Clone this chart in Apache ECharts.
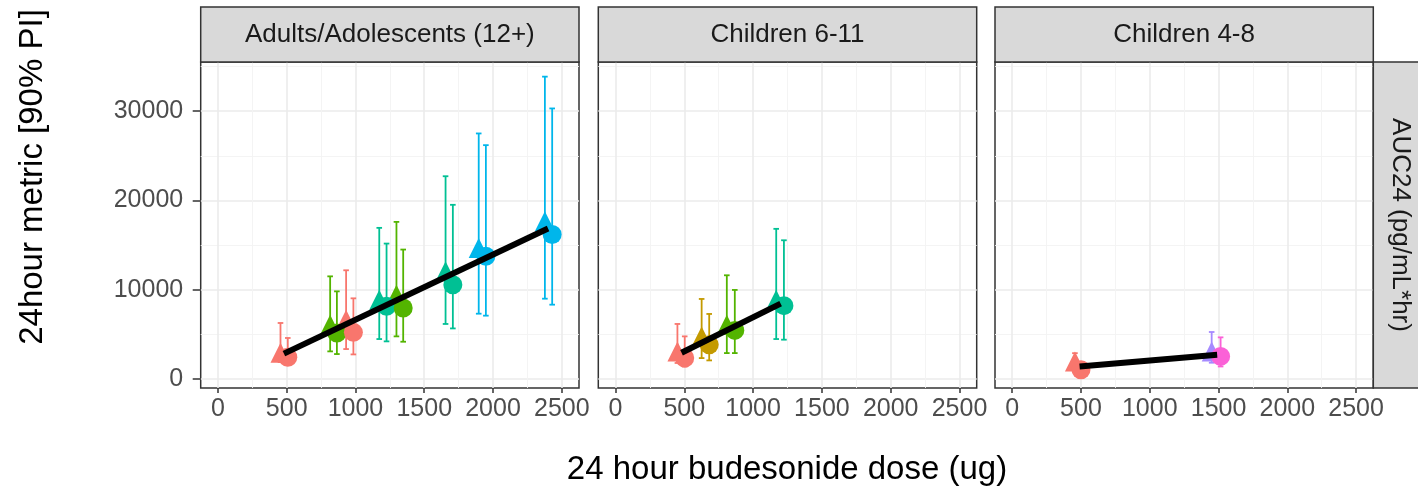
<!DOCTYPE html>
<html><head><meta charset="utf-8">
<script src="https://cdn.jsdelivr.net/npm/echarts@6/dist/echarts.min.js"></script>
<style>html,body{margin:0;padding:0;background:#fff}#c{width:1418px;height:492px}</style>
</head><body><div id="c"></div><script>
// ---------- data ----------
const panelTitles = ['Adults/Adolescents (12+)', 'Children 6-11', 'Children 4-8'];
const rowStripTitle = 'AUC24 (pg/mL*hr)';
const xTitle = '24 hour budesonide dose (ug)';
const yTitle = '24hour metric [90% PI]';
const xTickValues = [0, 500, 1000, 1500, 2000, 2500];
const yTickValues = [0, 10000, 20000, 30000];
// colour levels (ggplot hue palette, 7 levels)
const palette = ['#F8766D', '#C49A00', '#53B400', '#00C094', '#00B6EB', '#A58AFF', '#FB61D7'];

// rows: [dose, median, lower 5%, upper 95%, colour level]
const adultsTriangle = [
  [455, 2950, 1900, 6280, 0], [816, 6090, 3100, 11500, 2], [932, 6650, 3360, 12180, 0],
  [1173, 8890, 4480, 16930, 3], [1298, 9450, 4780, 17600, 2], [1655, 12060, 6170, 22710, 3],
  [1896, 14680, 7320, 27500, 4], [2377, 17670, 9000, 33860, 4]
];
const adultsCircle = [
  [508, 2450, 1700, 4600, 0], [865, 5160, 2800, 9820, 2], [985, 5230, 2760, 9040, 0],
  [1226, 8140, 4220, 15170, 3], [1347, 7960, 4180, 14500, 2], [1708, 10570, 5670, 19510, 3],
  [1948, 13750, 7100, 26190, 4], [2430, 16180, 8330, 30300, 4]
];
const child611Triangle = [
  [450, 3100, 1800, 6170, 0], [626, 4780, 2350, 8970, 1], [809, 6090, 2910, 11620, 2], [1168, 8890, 4480, 16820, 3]
];
const child611Circle = [
  [503, 2350, 1400, 4780, 0], [681, 3850, 2090, 7290, 1], [867, 5450, 2910, 9980, 2], [1224, 8220, 4410, 15540, 3]
];
const child48Triangle = [
  [456, 1970, 1200, 2900, 0], [1450, 3100, 1830, 5270, 5]
];
const child48Circle = [
  [500, 1040, 600, 1800, 0], [1515, 2540, 1410, 4670, 6]
];
const adultsFit = [[480, 2850], [2400, 16850]];
const child611Fit = [[480, 2950], [1200, 8450]];
const child48Fit = [[490, 1400], [1490, 2720]];

const panelTriangles = [adultsTriangle, child611Triangle, child48Triangle];
const panelCircles = [adultsCircle, child611Circle, child48Circle];
const panelFits = [adultsFit, child611Fit, child48Fit];

// ---------- layout ----------
const FONT = '"Liberation Sans", Arial, Helvetica, sans-serif';
const gridTop = 62, gridHeight = 326;
const gridBoxes = [{left: 200.7, width: 378.3}, {left: 598.3, width: 378.4}, {left: 995, width: 378.3}];
const T = 'rgba(0,0,0,0)';
const MAJ = '#EBEBEB', MIN = '#F3F3F3';
const plain = v => String(v);

const grids = [], xAxes = [], yAxes = [], series = [], graphics = [];

gridBoxes.forEach((g, i) => {
  grids.push({left: g.left, top: gridTop, width: g.width, height: gridHeight, show: true,
    borderColor: '#333333', borderWidth: 1.5, backgroundColor: '#fff', containLabel: false});
  // label/tick x axis
  xAxes.push({type: 'value', gridIndex: i, min: -125, max: 2625, interval: 125, position: 'bottom',
    axisLine: {show: false, onZero: false},
    axisTick: {show: true, length: 5, lineStyle: {color: '#333', width: 1.5}, customValues: xTickValues},
    axisLabel: {show: true, customValues: xTickValues, formatter: plain, margin: 9, fontSize: 25, color: '#4D4D4D', fontFamily: FONT},
    splitLine: {show: false}});
  xAxes.push({type: 'value', gridIndex: i, min: -125, max: 2625, interval: 125,
    axisLine: {show: false, onZero: false}, axisTick: {show: false}, axisLabel: {show: false},
    splitLine: {show: true, lineStyle: {color: [T, MAJ, T, T], width: 1.6}}});
  xAxes.push({type: 'value', gridIndex: i, min: -125, max: 2625, interval: 125,
    axisLine: {show: false, onZero: false}, axisTick: {show: false}, axisLabel: {show: false},
    splitLine: {show: true, lineStyle: {color: [T, T, T, MIN], width: 0.9}}});
  // y axes
  yAxes.push({type: 'value', gridIndex: i, min: -1000, max: 35500, interval: 1000, position: 'left',
    axisLine: {show: false, onZero: false},
    axisTick: {show: i === 0, length: 8, lineStyle: {color: '#333', width: 1.5}, customValues: yTickValues},
    axisLabel: {show: i === 0, customValues: yTickValues, formatter: plain, margin: 17.5, fontSize: 25, color: '#4D4D4D', fontFamily: FONT},
    splitLine: {show: false}});
  yAxes.push({type: 'value', gridIndex: i, min: -1000, max: 35500, interval: 1000,
    axisLine: {show: false, onZero: false}, axisTick: {show: false}, axisLabel: {show: false},
    splitLine: {show: true, lineStyle: {color: [T, MAJ, T, T, T, T, T, T, T, T], width: 1.6}}});
  yAxes.push({type: 'value', gridIndex: i, min: -1000, max: 35500, interval: 1000,
    axisLine: {show: false, onZero: false}, axisTick: {show: false}, axisLabel: {show: false},
    splitLine: {show: true, lineStyle: {color: [T, T, T, T, T, T, MIN, T, T, T], width: 0.9}}});

  const xi = i * 3, yi = i * 3;
  const bars = panelTriangles[i].concat(panelCircles[i]).map(r => [r[0], r[2], r[3], r[4]]);
  series.push({type: 'custom', xAxisIndex: xi, yAxisIndex: yi, z: 2, silent: true,
    data: bars, encode: {x: 0, y: [1, 2]},
    renderItem: function (params, api) {
      const x = api.value(0), lo = api.value(1), hi = api.value(2);
      const col = palette[api.value(3)];
      const pHi = api.coord([x, hi]), pLo = api.coord([x, lo]);
      const w = 2.8;
      const st = {stroke: col, lineWidth: 1.8};
      return {type: 'group', children: [
        {type: 'line', shape: {x1: pHi[0], y1: pHi[1], x2: pLo[0], y2: pLo[1]}, style: st},
        {type: 'line', shape: {x1: pHi[0] - w, y1: pHi[1], x2: pHi[0] + w, y2: pHi[1]}, style: st},
        {type: 'line', shape: {x1: pLo[0] - w, y1: pLo[1], x2: pLo[0] + w, y2: pLo[1]}, style: st}
      ]};
    }});
  series.push({type: 'scatter', xAxisIndex: xi, yAxisIndex: yi, z: 3, symbol: 'triangle', symbolSize: 20, silent: true,
    data: panelTriangles[i].map(r => ({value: [r[0], r[1]], itemStyle: {color: palette[r[4]], opacity: 1}}))});
  series.push({type: 'scatter', xAxisIndex: xi, yAxisIndex: yi, z: 3, symbol: 'circle', symbolSize: 19, silent: true,
    data: panelCircles[i].map(r => ({value: [r[0], r[1]], itemStyle: {color: palette[r[4]], opacity: 1}}))});
  series.push({type: 'line', xAxisIndex: xi, yAxisIndex: yi, z: 4, symbol: 'none', silent: true,
    lineStyle: {color: '#000', width: 6, cap: 'butt'}, data: panelFits[i]});

  // strip
  graphics.push({type: 'rect', z: 10, shape: {x: g.left, y: 7, width: g.width, height: 55},
    style: {fill: '#D9D9D9', stroke: '#333333', lineWidth: 1.5}});
  graphics.push({type: 'text', z: 11, x: g.left + g.width / 2, y: 35,
    style: {text: panelTitles[i], fontSize: 26, fontFamily: FONT, fill: '#1A1A1A', align: 'center', verticalAlign: 'middle'}});
});

// right strip
graphics.push({type: 'rect', z: 10, shape: {x: 1373.3, y: gridTop, width: 55, height: gridHeight},
  style: {fill: '#D9D9D9', stroke: '#333333', lineWidth: 1.5}});
graphics.push({type: 'text', z: 11, x: 1400, y: 225, rotation: -Math.PI / 2,
  style: {text: rowStripTitle, fontSize: 26, fontFamily: FONT, fill: '#1A1A1A', align: 'center', verticalAlign: 'middle'}});
// axis titles
graphics.push({type: 'text', z: 11, x: 787, y: 470,
  style: {text: xTitle, fontSize: 33, fontFamily: FONT, fill: '#000', align: 'center', verticalAlign: 'middle'}});
graphics.push({type: 'text', z: 11, x: 33, y: 177, rotation: Math.PI / 2,
  style: {text: yTitle, fontSize: 33, fontFamily: FONT, fill: '#000', align: 'center', verticalAlign: 'middle'}});

const chart = echarts.init(document.getElementById('c'), null, {renderer: 'canvas'});
chart.setOption({
  animation: false,
  backgroundColor: '#fff',
  grid: grids, xAxis: xAxes, yAxis: yAxes, series: series, graphic: graphics
});
</script></body></html>
